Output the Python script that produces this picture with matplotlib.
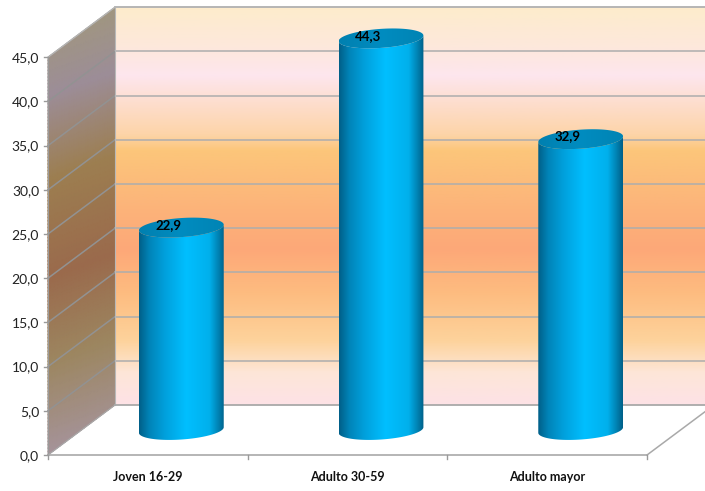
import matplotlib
matplotlib.use("Agg")
import matplotlib.pyplot as plt
import numpy as np
from matplotlib.colors import LinearSegmentedColormap
from matplotlib.patches import Polygon

plt.rcParams["font.family"] = ["Lato", "DejaVu Sans"]

categories = ["Joven 16-29", "Adulto 30-59", "Adulto mayor"]
values = [22.9, 44.3, 32.9]
value_labels = ["22,9", "44,3", "32,9"]
y_ticks = [0, 5, 10, 15, 20, 25, 30, 35, 40, 45]
y_tick_labels = ["0,0", "5,0", "10,0", "15,0", "20,0", "25,0", "30,0", "35,0", "40,0", "45,0"]

# Pixels per data unit, and the 3D depth offset in pixels
PX_X = 199.67
PX_Y = 8.84
DEPTH_X = 67 / PX_X
DEPTH_Y = 50 / PX_Y
W, H = 705, 491
LEFT_PX, ZERO_PX = 48, 455

wall_cmap = LinearSegmentedColormap.from_list("wall", [
    (0.00, "#fde2e6"), (0.08, "#fde6d8"), (0.16, "#fdd39c"), (0.28, "#fdbc80"),
    (0.39, "#fda878"), (0.50, "#fcb47a"), (0.64, "#fcc67a"), (0.68, "#fdd4a8"),
    (0.83, "#fde6ee"), (0.90, "#fde8dc"), (1.00, "#fdeccc"),
])
side_cmap = LinearSegmentedColormap.from_list("side", [
    (0.00, "#a5939a"), (0.22, "#9c8660"), (0.42, "#9a6a4c"), (0.65, "#9c7e50"),
    (0.85, "#9c8d98"), (1.00, "#a09680"),
])
bar_cmap = LinearSegmentedColormap.from_list("bar", [
    (0.00, "#005f88"), (0.12, "#0084b8"), (0.30, "#00a0dc"), (0.55, "#00bfff"),
    (0.82, "#00b0ec"), (0.93, "#0080b0"), (1.00, "#005f88"),
])
top_cmap = LinearSegmentedColormap.from_list("top", [
    (0.00, "#0080b0"), (0.5, "#008cc0"), (1.00, "#0084b4"),
])

fig = plt.figure(figsize=(W / 100, H / 100), dpi=100)
ax = fig.add_axes([0, 0, 1, 1])
ax.axis("off")

top = y_ticks[-1]
x_end = (W - LEFT_PX) / PX_X

# back wall
ax.imshow(np.linspace(1, 0, 256).reshape(-1, 1), cmap=wall_cmap, aspect="auto",
          extent=[DEPTH_X, x_end, DEPTH_Y, top + DEPTH_Y], zorder=1)

# left wall
u = np.linspace(0, 1, 40)
v = np.linspace(0, top, 120)
uu, vv = np.meshgrid(u, v)
ax.pcolormesh(uu * DEPTH_X, vv + uu * DEPTH_Y, (vv + uu * 3) / (top + 3),
              cmap=side_cmap, shading="gouraud", zorder=1)

# grid lines on both walls
for t in y_ticks[1:]:
    ax.plot([DEPTH_X, x_end], [t + DEPTH_Y] * 2, color="#adadad", lw=1.1, zorder=2)
for t in y_ticks[1:-1]:
    ax.plot([0, DEPTH_X], [t, t + DEPTH_Y], color="#929292", lw=1.1, zorder=2)
ax.plot([DEPTH_X, DEPTH_X], [DEPTH_Y, top + DEPTH_Y], color="#b8b8b8", lw=0.8, zorder=2)
ax.plot([DEPTH_X, x_end], [top + DEPTH_Y] * 2, color="#b5b5b5", lw=1.1, zorder=2)
ax.plot([0, DEPTH_X], [top, top + DEPTH_Y], color="#b5b5b5", lw=1, zorder=2)

# floor
ax.plot([DEPTH_X, x_end], [DEPTH_Y, DEPTH_Y], color="#a9a9a9", lw=1.3, zorder=2)
ax.plot([0, 3], [0, 0], color="#a9a9a9", lw=1.2, zorder=2)
ax.plot([0, 0], [0, top], color="#9a9a9a", lw=0.8, zorder=2)
ax.plot([3, x_end], [0, (x_end - 3) / DEPTH_X * DEPTH_Y], color="#a9a9a9", lw=1.1, zorder=2)
ax.plot([0, DEPTH_X], [0, DEPTH_Y], color="#a9a9a9", lw=0.8, zorder=2)


def ellipse(cx, cy, t):
    # slightly tilted ellipse, half axes given in pixels, converted to data units
    a, b, tilt = 42.5, 9.5, np.radians(4)
    px = a * np.cos(t) * np.cos(tilt) - b * np.sin(t) * np.sin(tilt)
    py = a * np.cos(t) * np.sin(tilt) + b * np.sin(t) * np.cos(tilt)
    return cx + px / PX_X, cy + py / PX_Y


# cylinders
t_full = np.linspace(0, 2 * np.pi, 200)
t_low = np.linspace(np.pi, 2 * np.pi, 100)
half_w = 42.5 / PX_X
for i, (val, lab) in enumerate(zip(values, value_labels)):
    cx = i + 0.5 + DEPTH_X / 2
    base = DEPTH_Y / 2

    bx, by = ellipse(cx, base, t_low)
    tx, ty = ellipse(cx, base + val, t_low[::-1])
    body = Polygon(np.column_stack([np.r_[bx, tx], np.r_[by, ty]]), closed=True,
                   transform=ax.transData, fc="none", ec="none")
    ax.add_patch(body)
    im = ax.imshow(np.linspace(0, 1, 256).reshape(1, -1), cmap=bar_cmap, aspect="auto",
                   extent=[cx - half_w, cx + half_w, base - 2, base + val + 2], zorder=3)
    im.set_clip_path(body)

    ex, ey = ellipse(cx, base + val, t_full)
    cap = Polygon(np.column_stack([ex, ey]), closed=True, transform=ax.transData,
                  fc="none", ec="none")
    ax.add_patch(cap)
    im2 = ax.imshow(np.linspace(0, 1, 64).reshape(1, -1), cmap=top_cmap, aspect="auto",
                    extent=[cx - half_w, cx + half_w, base + val - 2, base + val + 2], zorder=4)
    im2.set_clip_path(cap)

    ax.text(cx - 13 / PX_X, base + val + 0.3, lab, ha="center", va="center",
            fontsize=9.5, fontweight="bold", color="black", zorder=5)

# imshow resets the limits
ax.set_xlim(-LEFT_PX / PX_X, (W - LEFT_PX) / PX_X)
ax.set_ylim(-(H - ZERO_PX) / PX_Y, ZERO_PX / PX_Y)

# value axis labels and ticks
for t, lab in zip(y_ticks, y_tick_labels):
    ax.plot([-4 / PX_X, 0], [t, t], color="#9a9a9a", lw=1, zorder=2)
    ax.text(-9 / PX_X, t - 0.1, lab, ha="right", va="center", fontsize=10, color="#222222")

# category labels and ticks
for i, cat in enumerate(categories):
    ax.text(i + 0.5, -22 / PX_Y, cat, ha="center", va="center", fontsize=9,
            fontweight="bold", color="#111111")
for i in range(len(categories) + 1):
    ax.plot([i, i], [0, -4 / PX_Y], color="#9a9a9a", lw=1, zorder=2)

fig.savefig("out.png", dpi=100)
